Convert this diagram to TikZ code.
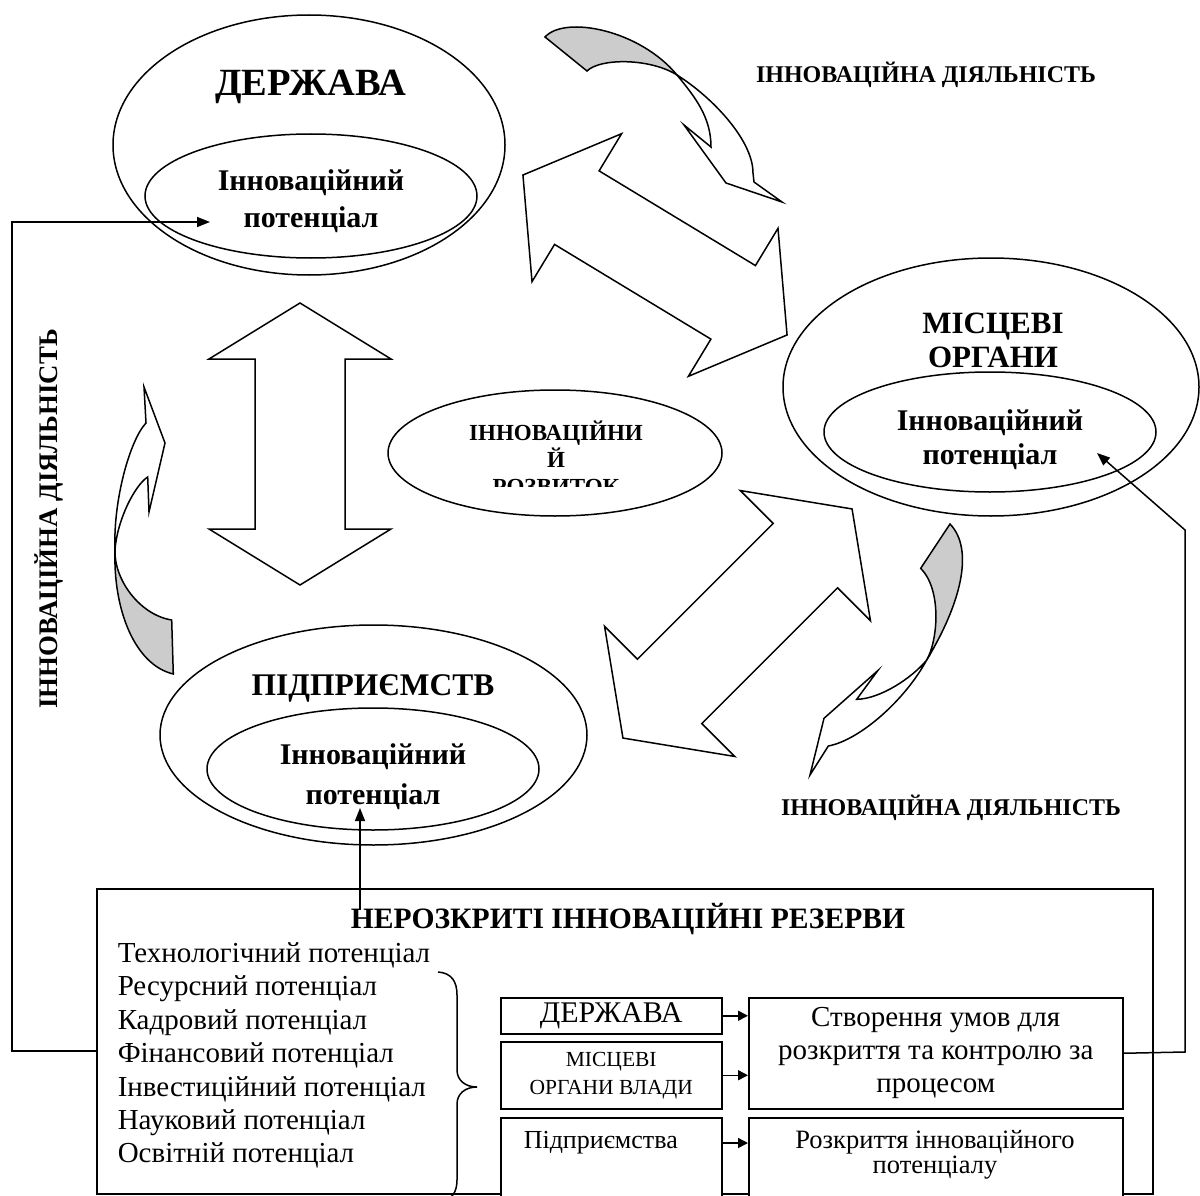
\documentclass[tikz,border=0pt]{standalone}
\usepackage{fontspec}
\setmainfont{Liberation Serif}[BoldFont={Liberation Serif Bold}]
\usetikzlibrary{arrows.meta, positioning, shapes.geometric}
\definecolor{shade}{RGB}{204,204,204}
\newcommand{\fs}[2]{\fontsize{#1}{#2}\selectfont}
% hollow two-headed arrow: x, y, angle, half length, head length, head half width, shaft half width
\newcommand{\twoway}[7]{%
  \begin{scope}[shift={(#1,#2)}, rotate=#3]
    \draw[fill=white]
      (-#4,0) -- (-#4+#5,-#6) -- (-#4+#5,-#7) -- (#4-#5,-#7) -- (#4-#5,-#6)
      -- (#4,0) -- (#4-#5,#6) -- (#4-#5,#7) -- (-#4+#5,#7) -- (-#4+#5,#6) -- cycle;
  \end{scope}}

\begin{document}
\begin{tikzpicture}[
      x=1pt, y=-1pt, line width=1.5pt,
      ell/.style={draw, ellipse, inner sep=0pt},
      lbl/.style={inner sep=0pt, align=center},
      box/.style={draw, fill=white, inner sep=0pt, anchor=north west},
      arr/.style={-{Triangle[length=13pt, width=10pt]}},
      sarr/.style={-{Triangle[length=10pt, width=10pt]}}
  ]
  \useasboundingbox (0,0) rectangle (1200,1196);

  % ellipses
  \node[ell, minimum width=392pt, minimum height=260pt] (stateO) at (309,145) {};
  \node[ell, minimum width=332pt, minimum height=124pt] (stateI) at (311,196) {};
  \node[ell, minimum width=416pt, minimum height=258pt] (localO) at (991,387) {};
  \node[ell, minimum width=332pt, minimum height=120pt] (localI) at (990,432) {};
  \node[ell, minimum width=427pt, minimum height=220pt] (entO) at (373.5,735) {};
  \node[ell, minimum width=332pt, minimum height=122pt] (entI) at (373,769) {};
  \node[ell, minimum width=334pt, minimum height=126pt] (dev) at (555,453) {};

  \node[lbl, font=\fs{38.5}{40}\bfseries] (stname) at (311,87) {ДЕРЖАВА};
  \node[lbl, font=\fs{30}{37}\bfseries] (stpot) at (311,201) {Інноваційний\\потенціал};
  \node[lbl, font=\fs{31}{34}\bfseries] (locname) at (993,340) {МІСЦЕВІ\\ОРГАНИ};
  \node[lbl, font=\fs{30}{34}\bfseries] (locpot) at (990,440) {Інноваційний\\потенціал};
  \node[lbl, font=\fs{31.5}{34}\bfseries] (entname) at (373,688) {ПІДПРИЄМСТВ};
  \node[lbl, font=\fs{30}{40}\bfseries] (entpot) at (373,777) {Інноваційний\\потенціал};
  \begin{scope}
    \clip (420,400) rectangle (700,486);
    \node[lbl, font=\fs{23}{27}\bfseries] (devtxt) at (556,458) {ІННОВАЦІЙНИ\\Й\\РОЗВИТОК};
  \end{scope}

  % hollow arrows
  \twoway{655}{255}{-31.2}{154.4}{63}{86.5}{43}
  \twoway{737.5}{623.5}{45}{162}{66}{92}{45.5}
  \twoway{300}{444}{90}{141}{56}{91}{45}

  % curved arrows
  \draw[fill=shade] (545,37) .. controls (565,15) and (640,30) .. (677,75)
    .. controls (650,58) and (600,58) .. (587,71) -- cycle;
  \draw[fill=white] (677,75) .. controls (695,97) and (711,117) .. (711,147)
    -- (684,125) -- (726,183) -- (782,202) -- (754,182) -- (753,173)
    .. controls (753,140) and (712,97) .. (677,75) -- cycle;

  \draw[fill=shade] (115,550) .. controls (114,580) and (140,615) .. (171.7,620)
    -- (173.3,674) .. controls (135,665) and (113,610) .. (115,550) -- cycle;
  \draw[fill=white] (115,550) .. controls (113,500) and (130,440) .. (146,423)
    -- (144,387) -- (165,443) -- (149,512) -- (147.7,477)
    .. controls (135,485) and (117,520) .. (115,550) -- cycle;

  \draw[fill=shade] (926.7,660) .. controls (938,640) and (942,590) .. (920.7,568.3)
    -- (950,524) .. controls (975,550) and (960,605) .. (926.7,660) -- cycle;
  \draw[fill=white] (926.7,660) .. controls (912,678) and (880,699) .. (856.7,699.3)
    -- (877.7,670.7) -- (824,718.3) -- (810,775) -- (828.3,746)
    .. controls (860,740) and (905,700) .. (926.7,660) -- cycle;

  \node[lbl, font=\fs{24}{24}\bfseries] (actT) at (926,75) {ІННОВАЦІЙНА ДІЯЛЬНІСТЬ};
  \node[lbl, font=\fs{24}{24}\bfseries] (actB) at (951,808) {ІННОВАЦІЙНА ДІЯЛЬНІСТЬ};
  \node[lbl, rotate=90, font=\fs{26.8}{26.8}\bfseries] (actL) at (49,519) {ІННОВАЦІЙНА ДІЯЛЬНІСТЬ};

  % reserves block
  \node[draw, inner sep=0pt, anchor=north west, minimum width=1056pt, minimum height=305pt] (reserve) at (96,888) {};
  \node[lbl, font=\fs{29.6}{33}\bfseries] (restitle) at (628,919) {НЕРОЗКРИТІ ІННОВАЦІЙНІ РЕЗЕРВИ};
  \foreach \t [count=\i] in {Технологічний потенціал, Ресурсний потенціал, Кадровий потенціал,
      Фінансовий потенціал, Інвестиційний потенціал, Науковий потенціал, Освітній потенціал}
    \node[anchor=base west, inner sep=0pt, font=\fs{29}{33}] (pot\i) at (117,929+33.4*\i) {\t};
  \draw (438,972) .. controls (452,973) and (457,982) .. (457,995) -- (457,1070)
    .. controls (457,1080) and (465,1087) .. (477,1087)
    .. controls (465,1087) and (457,1094) .. (457,1104) -- (457,1180)
    .. controls (457,1192) and (452,1201) .. (438,1202);

  \node[box, minimum width=221pt, minimum height=36pt, font=\fs{30}{30}] (sgov) at (500,997) {ДЕРЖАВА};
  \node[box, minimum width=221pt, minimum height=67pt, align=center, font=\fs{21.5}{28}] (slocal) at (500,1041) {МІСЦЕВІ\\ОРГАНИ ВЛАДИ};
  \node[box, minimum width=221pt, minimum height=100pt] (sent) at (500,1117) {};
  \node[lbl, anchor=west, font=\fs{26}{28}] (senttxt) at (523,1143) {Підприємства};
  \node[box, minimum width=374pt, minimum height=111pt, align=center, font=\fs{29}{33}] (screate) at (748,997)
    {Створення умов для\\розкриття та контролю за\\процесом};
  \node[box, minimum width=374pt, minimum height=100pt] (sdisc) at (748,1117) {};
  \node[lbl, font=\fs{26.5}{25}] (sdisctxt) at (935,1155) {Розкриття інноваційного\\потенціалу};

  \draw[sarr] (sgov.east) -- (sgov.east -| screate.west);
  \draw[sarr] (slocal.east) -- (slocal.east -| screate.west);
  \draw[sarr] (sent.east |- senttxt) -- (senttxt -| sdisc.west);

  % feedback lines
  \coordinate (stin) at (210,222);
  \coordinate (resup) at (360,910);
  \coordinate (entin) at (360,808);
  \coordinate (locin) at (1097,453);
  \draw[arr] ([yshift=-9.5pt]reserve.west) -| (12,222) -- (stin);
  \draw[arr] (resup) -- (entin);
  \draw[arr] (screate.east) -- (1185,1052) -- (1185,530) -- (locin);
\end{tikzpicture}
\end{document}
